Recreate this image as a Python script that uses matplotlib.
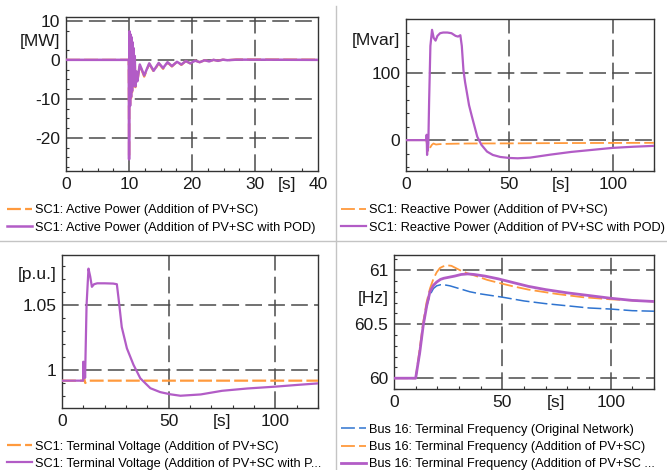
import matplotlib
matplotlib.use("Agg")
import matplotlib.pyplot as plt
from matplotlib.ticker import FixedLocator, MultipleLocator
from matplotlib.lines import Line2D

# ---------------------------------------------------
# SC1 ACTIVE POWER [MW]
# ---------------------------------------------------
t_p = [0, 9.95, 10.0, 10.08, 10.16, 10.24, 10.32, 10.40, 10.48, 10.56, 10.64,
       10.72, 10.80, 10.90, 11.0, 11.15, 11.3, 11.7, 12.4, 13.2, 13.9, 14.7,
       15.4, 16.1, 16.8, 17.6, 18.3, 19.0, 19.7, 20.5, 21.2, 22.0, 22.7, 23.4,
       24.1, 24.9, 25.6, 27.0, 30.0, 40.0]
p_pvsc = [0, 0, -25.0, 7.0, -12.0, 6.0, -9.8, 5.5, -8.3, 4.2, -6.8, 2.8, -5.4,
          0.8, -7.0, -3.2, -5.8, -1.3, -4.3, -1.0, -3.0, -0.9, -2.3, -0.7, -1.7,
          -0.5, -1.3, -0.3, -0.9, -0.2, -0.6, -0.1, -0.4, 0.0, -0.25, 0.05,
          -0.1, 0.1, 0.1, 0.05]
p_pod = [0, 0, -25.5, 7.3, -11.8, 6.5, -9.5, 5.8, -8.0, 4.5, -6.5, 3.0, -5.0,
         1.0, -6.8, -3.0, -5.5, -1.2, -4.0, -0.9, -2.8, -0.8, -2.1, -0.6, -1.6,
         -0.5, -1.2, -0.3, -0.9, -0.2, -0.6, -0.1, -0.4, 0.0, -0.25, 0.05,
         -0.1, 0.05, 0.05, 0.0]

# ---------------------------------------------------
# SC1 REACTIVE POWER [Mvar]
# ---------------------------------------------------
t_q_pvsc = [0, 9.9, 10.0, 10.3, 10.8, 11.5, 12.5, 13.3, 14.5, 16, 20, 30, 50,
            80, 120]
q_pvsc = [0, 0, -3, -10, -17, -12, -7, -5, -6.5, -6, -5.5, -5, -4.8, -4.3, -4]
t_q_pod = [0, 9.9, 10.0, 10.2, 10.4, 10.6, 10.8, 11.2, 11.8, 12.6, 13.4, 14.3,
           15.2, 16.5, 18, 20, 22, 24, 25.2, 26.3, 27.0, 27.8, 28.6, 29.5, 30.5,
           31.9, 33.2, 34.5, 36.5, 39.2, 42, 45.6, 50, 54, 60, 70, 80, 90, 100,
           110, 120]
q_pod = [0, 0, 8, -22, 5, -15, -5, 60, 140, 164, 152, 148, 155, 159, 160, 160,
         159, 155, 154, 156, 140, 104, 86, 70, 52, 35, 20, 5, -7, -17, -22, -25,
         -26.5, -27, -26, -21.5, -17.5, -14.5, -11.5, -9.8, -8.5]

# ---------------------------------------------------
# SC1 TERMINAL VOLTAGE [p.u.]
# ---------------------------------------------------
t_v_pvsc = [0, 9.9, 10.0, 10.4, 10.9, 11.5, 12.5, 14, 120]
v_pvsc = [0.9918, 0.9918, 0.9945, 0.9935, 0.9900, 0.9910, 0.9918, 0.9918,
          0.9918]
t_v_pod = [0, 9.9, 10.0, 10.3, 10.6, 10.8, 11.5, 12.4, 13.2, 14.0, 15.0, 16.5,
           20, 24, 25.7, 26.5, 28, 30.4, 33.5, 36.7, 41.4, 46, 50.8, 55.5, 65,
           75, 87, 100, 110, 120]
v_pod = [0.9918, 0.9918, 1.0064, 0.994, 1.006, 0.994, 1.05, 1.078, 1.072,
         1.064, 1.066, 1.0667, 1.0667, 1.0665, 1.066, 1.055, 1.033, 1.0167,
         1.004, 0.9936, 0.986, 0.983, 0.9813, 0.9802, 0.9812, 0.984, 0.9858,
         0.9872, 0.9885, 0.9897]

# ---------------------------------------------------
# BUS 16 TERMINAL FREQUENCY [Hz]
# ---------------------------------------------------
t_f_orig = [0, 10, 11.9, 13.5, 15.1, 16.6, 18.2, 19.7, 21.5, 23, 25.8, 30, 35,
            40, 50, 60, 70, 80, 90, 100, 110, 120]
f_orig = [60, 60, 60.24, 60.49, 60.67, 60.77, 60.83, 60.855, 60.865, 60.865,
          60.855, 60.83, 60.80, 60.78, 60.75, 60.715, 60.69, 60.67, 60.65,
          60.64, 60.625, 60.62]
t_f_pvsc = [0, 10, 11.5, 13.5, 15, 16.6, 18.2, 19.7, 21.2, 22.7, 24.5, 26.5,
            30.4, 34, 38, 43, 48.8, 55, 62, 75, 87, 100, 110, 120]
f_pvsc = [60, 60, 60.22, 60.52, 60.70, 60.83, 60.92, 60.98, 61.02, 61.035,
          61.045, 61.04, 61.0, 60.97, 60.945, 60.91, 60.88, 60.85, 60.82, 60.78,
          60.75, 60.73, 60.72, 60.71]
t_f_pod = [0, 10, 11.9, 13.5, 15.1, 16.6, 18.2, 19.7, 21.5, 23, 25.5, 28, 31,
           34, 37, 42, 48, 55, 62, 70, 80, 90, 100, 110, 120]
f_pod = [60, 60, 60.24, 60.49, 60.67, 60.80, 60.86, 60.89, 60.915, 60.925,
         60.935, 60.945, 60.96, 60.965, 60.96, 60.945, 60.92, 60.885, 60.85,
         60.82, 60.79, 60.765, 60.74, 60.72, 60.71]

# ---------------------------------------------------
# STYLE
# ---------------------------------------------------
plt.rcParams["font.family"] = ["Liberation Sans", "DejaVu Sans"]
plt.rcParams["lines.scale_dashes"] = False

PURPLE = "#b25cc6"
ORANGE = "#ff9a3d"
BLUE = "#2f74d0"
GRID = "#4a4a4a"
DASH_GRID = (0, (12, 4.5))
DASH_SIG = (0, (10, 3))

fig = plt.figure(figsize=(6.67, 4.70), dpi=100)


def setup_axes(rect, xlim, ylim, xticks, xlabels, yticks, ylabels,
               xgrid, ygrid, xminor, yminor):
    ax = fig.add_axes(rect)
    ax.set_xlim(*xlim)
    ax.set_ylim(*ylim)

    # labels (units sit among the tick labels)
    ax.xaxis.set_major_locator(FixedLocator(xticks))
    ax.set_xticklabels(xlabels)
    ax.yaxis.set_major_locator(FixedLocator(yticks))
    ax.set_yticklabels(ylabels)
    ax.xaxis.set_minor_locator(MultipleLocator(xminor))
    ax.yaxis.set_minor_locator(MultipleLocator(yminor))
    ax.tick_params(which="major", length=0, labelsize=12.5,
                   labelcolor="#1a1a1a", pad=4)
    ax.tick_params(which="minor", direction="in", length=2.5, width=0.8,
                   color="#333333")
    ax.tick_params(top=False, right=False)

    # dashed grid
    for gx in xgrid:
        ax.axvline(gx, color=GRID, lw=1.1, ls=DASH_GRID, zorder=1)
    for gy in ygrid:
        ax.axhline(gy, color=GRID, lw=1.1, ls=DASH_GRID, zorder=1)

    for s in ax.spines.values():
        s.set_color("#333333")
        s.set_linewidth(1.0)
    return ax


def add_legend(ax, x, y):
    ax.legend(loc="upper left", bbox_to_anchor=(x, y),
              bbox_transform=fig.transFigure, frameon=False, fontsize=9.2,
              handlelength=1.95, handletextpad=0.25, labelspacing=0.4,
              borderpad=0, borderaxespad=0)


# ---------------------------------------------------
# ACTIVE POWER
# ---------------------------------------------------
ax1 = setup_axes([0.099, 0.636, 0.378, 0.328], (0, 40), (-28.5, 11.0),
                 [0, 10, 20, 30, 35, 40], ["0", "10", "20", "30", "[s]", "40"],
                 [-20, -10, 0, 5, 10], ["-20", "-10", "0", "[MW]", "10"],
                 [10, 20, 30], [-20, -10, 0, 10], 2.5, 2.5)
ax1.plot(t_p, p_pvsc, color=ORANGE, lw=1.6, ls=DASH_SIG, zorder=3,
         label="SC1: Active Power (Addition of PV+SC)")
ax1.plot(t_p, p_pod, color=PURPLE, lw=1.8, zorder=4,
         label="SC1: Active Power (Addition of PV+SC with POD)")
add_legend(ax1, 0.010, 0.565)

# ---------------------------------------------------
# REACTIVE POWER
# ---------------------------------------------------
ax2 = setup_axes([0.6087, 0.636, 0.3718, 0.3234], (0, 120), (-46, 180),
                 [0, 50, 75, 100], ["0", "50", "[s]", "100"],
                 [0, 100, 150], ["0", "100", "[Mvar]"],
                 [50, 100], [0, 100], 10, 20)
ax2.plot(t_q_pvsc, q_pvsc, color=ORANGE, lw=1.3, ls=DASH_SIG, zorder=3,
         label="SC1: Reactive Power (Addition of PV+SC)")
ax2.plot(t_q_pod, q_pod, color=PURPLE, lw=1.6, zorder=4,
         label="SC1: Reactive Power (Addition of PV+SC with POD)")
add_legend(ax2, 0.511, 0.565)

# ---------------------------------------------------
# TERMINAL VOLTAGE
# ---------------------------------------------------
ax3 = setup_axes([0.093, 0.132, 0.3838, 0.3255], (0, 120), (0.9708, 1.0885),
                 [0, 50, 75, 100], ["0", "50", "[s]", "100"],
                 [1.0, 1.05, 1.075], ["1", "1.05", "[p.u.]"],
                 [50, 100], [1.0, 1.05], 10, 0.01)
ax3.plot(t_v_pvsc, v_pvsc, color=ORANGE, lw=1.6, ls=DASH_SIG, zorder=3,
         label="SC1: Terminal Voltage (Addition of PV+SC)")
ax3.plot(t_v_pod, v_pod, color=PURPLE, lw=1.6, zorder=4,
         label="SC1: Terminal Voltage (Addition of PV+SC with P...")
add_legend(ax3, 0.010, 0.062)

# ---------------------------------------------------
# TERMINAL FREQUENCY
# ---------------------------------------------------
ax4 = setup_axes([0.5907, 0.1723, 0.3898, 0.2851], (0, 120), (59.9, 61.14),
                 [0, 50, 75, 100], ["0", "50", "[s]", "100"],
                 [60, 60.5, 60.75, 61], ["60", "60.5", "[Hz]", "61"],
                 [50, 100], [60, 60.5, 61], 10, 0.1)
ax4.plot(t_f_orig, f_orig, color=BLUE, lw=1.1, ls=DASH_SIG, zorder=3,
         label="Bus 16: Terminal Frequency (Original Network)")
ax4.plot(t_f_pvsc, f_pvsc, color=ORANGE, lw=1.3, ls=DASH_SIG, zorder=3,
         label="Bus 16: Terminal Frequency (Addition of PV+SC)")
ax4.plot(t_f_pod, f_pod, color=PURPLE, lw=2.0, zorder=4,
         label="Bus 16: Terminal Frequency (Addition of PV+SC ...")
add_legend(ax4, 0.511, 0.098)

# ---------------------------------------------------
# PANEL SEPARATORS
# ---------------------------------------------------
fig.add_artist(Line2D([336 / 667, 336 / 667], [0, 1 - 6 / 470],
                      transform=fig.transFigure, color="#c4c4c4", lw=1.0))
fig.add_artist(Line2D([0, 1], [1 - 241 / 470, 1 - 241 / 470],
                      transform=fig.transFigure, color="#c4c4c4", lw=1.0))

fig.savefig("out.png", dpi=100, facecolor="white")
